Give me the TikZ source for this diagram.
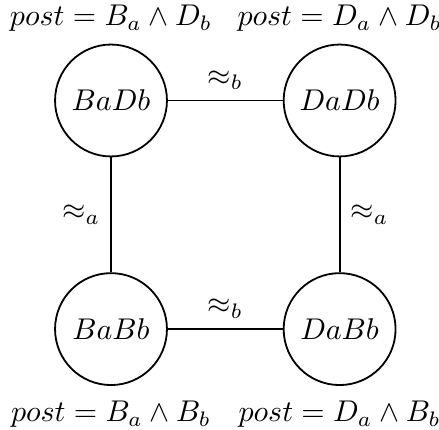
\documentclass[tikz,border=0pt]{standalone}
\usepackage{amsmath,amssymb}
\usepackage{tikz}
\usetikzlibrary{positioning}
\tikzset{
  world/.style={draw, circle, minimum size=37.3pt, inner sep=0pt, semithick},
  rel/.style={semithick},
  post/.style={inner sep=3.33pt}
}

\begin{document}
\begin{tikzpicture}[node distance=38.3pt]
  \useasboundingbox (-37pt,33.5pt) rectangle (109.33pt,-109.83pt);
  \node[world] (badb) at (0,0) {$BaDb$};
  \node[world, right=of badb] (dadb) {$DaDb$};
  \node[world, below=of badb] (babb) {$BaBb$};
  \node[world, right=of babb] (dabb) {$DaBb$};

  \node[post, above=0.5pt of badb] (postBaDb) {$post = B_a \wedge D_b$};
  \node[post, above=0.5pt of dadb] (postDaDb) {$post = D_a \wedge D_b$};
  \node[post, below=1.5pt of babb] (postBaBb) {$post = B_a \wedge B_b$};
  \node[post, below=1.5pt of dabb] (postDaBb) {$post = D_a \wedge B_b$};

  \draw[rel] (badb) -- (dadb) node[midway, above]{$\approx_b$};
  \draw[rel] (babb) -- (dabb) node[midway, above]{$\approx_b$};
  \draw[rel] (badb) -- (babb) node[midway, left]{$\approx_a$};
  \draw[rel] (dadb) -- (dabb) node[midway, right]{$\approx_a$};

\end{tikzpicture}
\end{document}
